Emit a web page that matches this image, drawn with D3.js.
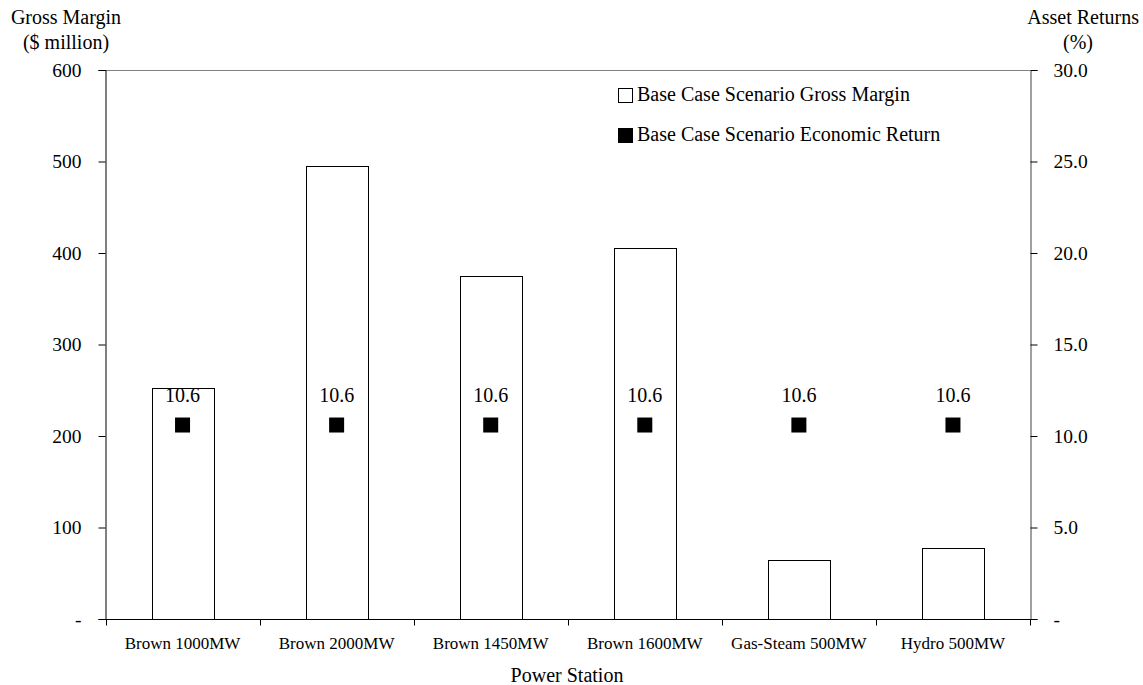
<!DOCTYPE html>
<html>
<head>
<meta charset="utf-8">
<script src="https://cdn.jsdelivr.net/npm/d3@7/dist/d3.min.js"></script>
<style>
  body { margin: 0; background: #fff; }
  svg, svg text { font-family: "Liberation Serif", "Times New Roman", "DejaVu Serif", serif; }
</style>
</head>
<body>
<svg id="chart" width="1143" height="685"></svg>
<script>
// Power stations and their base-case figures
const stations = ["Brown 1000MW", "Brown 2000MW", "Brown 1450MW", "Brown 1600MW", "Gas-Steam 500MW", "Hydro 500MW"];
const grossMargin = [252, 495, 375, 406, 65, 78];          // $ million
const economicReturn = [10.6, 10.6, 10.6, 10.6, 10.6, 10.6]; // %
const leftTicks = [0, 100, 200, 300, 400, 500, 600];
const rightTicks = [0, 5, 10, 15, 20, 25, 30];

const FONT = "Liberation Serif, Times New Roman, serif";
const svg = d3.select("#chart").attr("font-family", FONT);
const m = { left: 105.5, right: 1030, top: 70, bottom: 619 };

const x = d3.scaleBand().domain(stations).range([m.left, m.right]).paddingInner(0).paddingOuter(0);
const yL = d3.scaleLinear().domain([0, 600]).range([m.bottom, m.top]);
const yR = d3.scaleLinear().domain([0, 30]).range([m.bottom, m.top]);

// top frame line
svg.append("line")
  .attr("x1", m.left).attr("x2", m.right)
  .attr("y1", m.top + 0.5).attr("y2", m.top + 0.5)
  .attr("stroke", "#808080").attr("stroke-width", 1);

// bars
const barW = x.bandwidth() * 0.4;
svg.append("g").selectAll("rect")
  .data(stations)
  .join("rect")
  .attr("x", (d) => Math.round(x(d) + (x.bandwidth() - barW) / 2) + 0.5)
  .attr("y", (d, i) => Math.round(yL(grossMargin[i])) + 0.5)
  .attr("width", Math.round(barW))
  .attr("height", (d, i) => m.bottom - Math.round(yL(grossMargin[i])))
  .attr("fill", "#fff")
  .attr("stroke", "#000")
  .attr("stroke-width", 1);

// left axis
const leftAxis = d3.axisLeft(yL).tickValues(leftTicks).tickSize(7).tickPadding(17)
  .tickFormat((d) => d === 0 ? "-" : d3.format("d")(d));
const gL = svg.append("g").attr("transform", `translate(${m.left},0)`).call(leftAxis)
  .attr("font-family", FONT).attr("font-size", 19.5);
gL.select(".domain").attr("stroke", "#000");
gL.selectAll("text").attr("fill", "#000");

// right axis
const rightAxis = d3.axisRight(yR).tickValues(rightTicks).tickSize(7).tickPadding(16)
  .tickFormat((d) => d === 0 ? "-" : d3.format(".1f")(d));
const gR = svg.append("g").attr("transform", `translate(${m.right + 0.5},0)`).call(rightAxis)
  .attr("font-family", FONT).attr("font-size", 19.5);
gR.select(".domain").attr("stroke", "#404040");
gR.selectAll("text").attr("fill", "#000");

// bottom axis: ticks at category boundaries
const gB = svg.append("g").attr("transform", `translate(0,${m.bottom + 0.5})`);
gB.append("line").attr("x1", m.left).attr("x2", m.right + 1).attr("stroke", "#000");
const bounds = stations.map((d) => x(d)).concat([m.right]);
gB.selectAll("line.tk").data(bounds).join("line").attr("class", "tk")
  .attr("x1", (d) => Math.round(d) + 0.5).attr("x2", (d) => Math.round(d) + 0.5)
  .attr("y1", 0).attr("y2", 6).attr("stroke", "#000");
gB.selectAll("text").data(stations).join("text")
  .attr("x", (d) => x(d) + x.bandwidth() / 2)
  .attr("y", 29)
  .attr("text-anchor", "middle")
  .attr("font-size", 17)
  .text((d) => d);

// economic return markers and labels
const mk = 15;
svg.append("g").selectAll("rect")
  .data(stations)
  .join("rect")
  .attr("x", (d) => x(d) + x.bandwidth() / 2 - mk / 2)
  .attr("y", (d, i) => yR(economicReturn[i]) - mk / 2)
  .attr("width", mk).attr("height", mk)
  .attr("fill", "#000");
svg.append("g").selectAll("text")
  .data(stations)
  .join("text")
  .attr("x", (d) => x(d) + x.bandwidth() / 2)
  .attr("y", (d, i) => yR(economicReturn[i]) - 23)
  .attr("text-anchor", "middle")
  .attr("font-size", 20)
  .text((d, i) => d3.format(".1f")(economicReturn[i]));

// axis titles
const titles = [
  { t: "Gross Margin", x: 66, y: 24, a: "middle" },
  { t: "($ million)", x: 66, y: 49, a: "middle" },
  { t: "Asset Returns", x: 1139, y: 24, a: "end" },
  { t: "(%)", x: 1078, y: 49, a: "middle" },
  { t: "Power Station", x: 567, y: 682, a: "middle" }
];
svg.append("g").selectAll("text").data(titles).join("text")
  .attr("x", (d) => d.x).attr("y", (d) => d.y)
  .attr("text-anchor", (d) => d.a)
  .attr("font-size", 20)
  .text((d) => d.t);

// legend
const legend = [
  { label: "Base Case Scenario Gross Margin", fill: "#fff" },
  { label: "Base Case Scenario Economic Return", fill: "#000" }
];
const lg = svg.append("g").selectAll("g").data(legend).join("g")
  .attr("transform", (d, i) => `translate(618,${88 + i * 40})`);
lg.append("rect").attr("x", 0.5).attr("y", 0.5).attr("width", 14).attr("height", 14)
  .attr("fill", (d) => d.fill).attr("stroke", "#000");
lg.append("text").attr("x", 19).attr("y", 13).attr("font-size", 20).text((d) => d.label);
</script>
</body>
</html>
